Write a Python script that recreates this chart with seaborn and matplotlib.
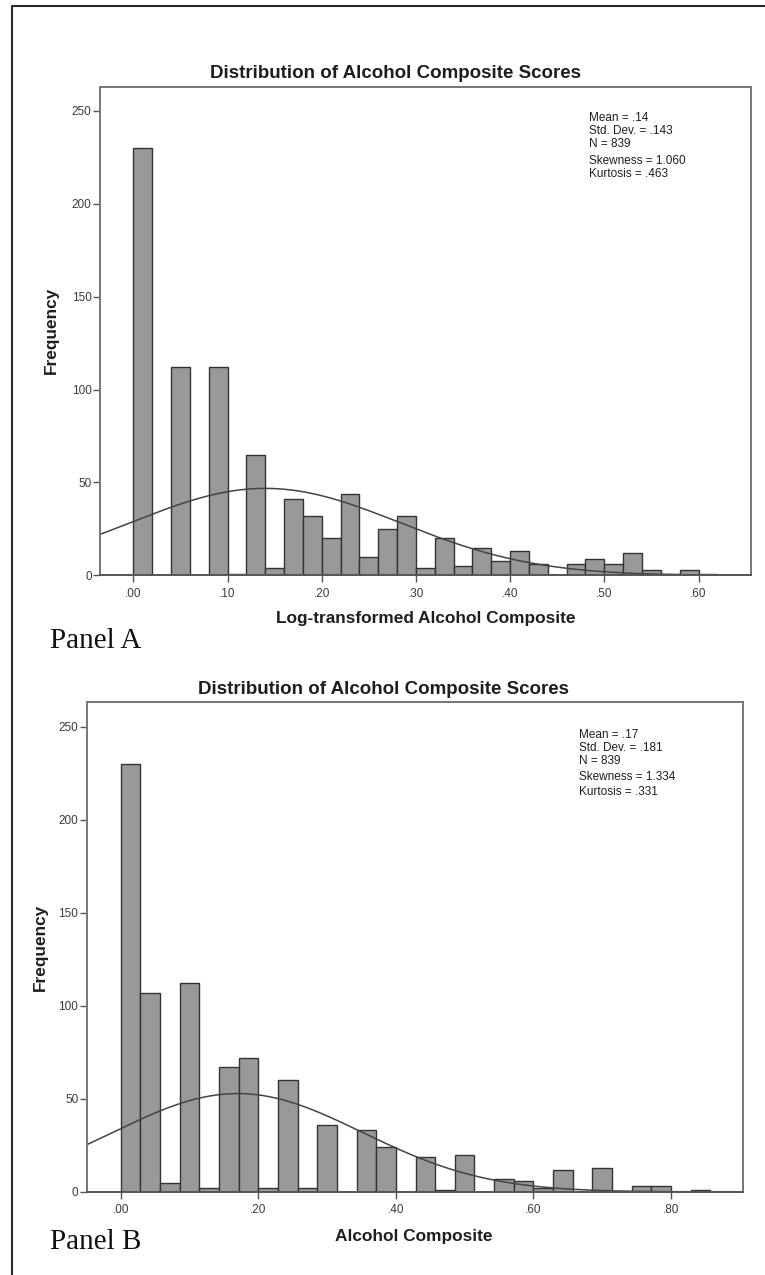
import numpy as np
import pandas as pd
import matplotlib
matplotlib.use("Agg")
import matplotlib.pyplot as plt
from matplotlib.lines import Line2D
import seaborn as sns

# ---------------------------------------------------------------- data
title = "Distribution of Alcohol Composite Scores"

# Panel A: log-transformed composite, bins of width .02 starting at 0
bin_width_a = 0.02
counts_a = [230, 0, 112, 0, 112, 1, 65, 4, 41, 32, 20, 44, 10, 25, 32, 4,
            20, 5, 15, 8, 13, 6, 0, 6, 9, 6, 12, 3, 1, 3, 1]
xticks_a = [0.0, 0.1, 0.2, 0.3, 0.4, 0.5, 0.6]
xticklabels_a = [".00", ".10", ".20", ".30", ".40", ".50", ".60"]
xlabel_a = "Log-transformed Alcohol Composite"
mean_a, sd_a, n_a = 0.14, 0.143, 839
stats_a = ["Mean = .14", "Std. Dev. = .143", "N = 839", "Skewness = 1.060", "Kurtosis = .463"]

# Panel B: raw composite, bins of width .2/7 starting at 0
bin_width_b = 0.2 / 7
counts_b = [230, 107, 5, 112, 2, 67, 72, 2, 60, 2, 36, 0, 33, 24, 0, 19,
            1, 20, 0, 7, 6, 2, 12, 0, 13, 0, 3, 3, 0, 1]
xticks_b = [0.0, 0.2, 0.4, 0.6, 0.8]
xticklabels_b = [".00", ".20", ".40", ".60", ".80"]
xlabel_b = "Alcohol Composite"
mean_b, sd_b, n_b = 0.17, 0.181, 839
stats_b = ["Mean = .17", "Std. Dev. = .181", "N = 839", "Skewness = 1.334", "Kurtosis = .331"]

yticks = [0, 50, 100, 150, 200, 250]
ylabel = "Frequency"

# ---------------------------------------------------------------- style
sns.set_style("white")
plt.rcParams["font.family"] = ["Liberation Sans", "DejaVu Sans"]

W, H = 765, 1275
fig = plt.figure(figsize=(W / 100, H / 100), dpi=100)
fig.patch.set_facecolor("white")


def fx(px):
    return px / W


def fy(py):
    return 1 - py / H


BAR = "#999999"
EDGE = "#333333"
FRAME = "#767676"
CURVE = "#444444"
TXT = "#1e1e1e"


def panel(rect, counts, bw, xlim, xticks, xticklabels, mean, sd, n):
    ax = fig.add_axes(rect)
    nb = len(counts)
    centers = (np.arange(nb) + 0.5) * bw
    df = pd.DataFrame({"value": centers, "count": np.asarray(counts, dtype=float)})
    sns.histplot(data=df, x="value", weights="count", binwidth=bw,
                 binrange=(0, nb * bw), ax=ax,
                 color=BAR, edgecolor=EDGE, linewidth=1.0, alpha=1.0)
    # fitted normal curve scaled to counts per bin
    xs = np.linspace(xlim[0], xlim[1], 400)
    ys = n * bw * np.exp(-0.5 * ((xs - mean) / sd) ** 2) / (sd * np.sqrt(2 * np.pi))
    sns.lineplot(x=xs, y=ys, ax=ax, color=CURVE, linewidth=1.1)
    ax.set_xlim(*xlim)
    ax.set_ylim(0, 263)
    ax.set_xticks(xticks)
    ax.set_xticklabels(xticklabels)
    ax.set_yticks(yticks)
    ax.set_yticklabels([str(v) for v in yticks])
    ax.set_xlabel("")
    ax.set_ylabel("")
    for s in ax.spines.values():
        s.set_visible(True)
        s.set_color(FRAME)
        s.set_linewidth(1.4)
    ax.spines["bottom"].set_color("#555555")
    ax.tick_params(axis="both", which="both", direction="out", length=5,
                   width=1.0, color="#555555", labelsize=8.5, labelcolor="#3a3a3a",
                   left=True, bottom=True, right=False, top=False)
    ax.tick_params(axis="y", pad=1)
    ax.tick_params(axis="x", pad=4)
    ax.grid(False)
    return ax


# Panel A
axA = panel([fx(100), fy(575.4), fx(751) - fx(100), (575.4 - 86.5) / H],
            counts_a, bin_width_a, (-0.0354, 0.6557), xticks_a, xticklabels_a,
            mean_a, sd_a, n_a)
# Panel B
axB = panel([fx(86.7), fy(1191.9), fx(743.3) - fx(86.7), (1191.9 - 702.4) / H],
            counts_b, bin_width_b, (-0.0494, 0.905), xticks_b, xticklabels_b,
            mean_b, sd_b, n_b)

# titles, axis labels
bold = dict(fontweight="bold", color=TXT, ha="center", va="center")
fig.text(fx(395.5), fy(73), title, fontsize=13.5, **bold)
fig.text(fx(384), fy(690), title, fontsize=13.5, **bold)
fig.text(fx(425.6), fy(619), xlabel_a, fontsize=12.4, **bold)
fig.text(fx(414), fy(1236), xlabel_b, fontsize=12.4, **bold)
fig.text(fx(51.5), fy(330), ylabel, fontsize=12.4, rotation=90, **bold)
fig.text(fx(40), fy(947), ylabel, fontsize=12.4, rotation=90, **bold)

# summary statistics
for label, yy in zip(stats_a, [118, 131, 144, 160.5, 174]):
    fig.text(fx(589), fy(yy), label, fontsize=8.5, color=TXT, ha="left", va="center")
for label, yy in zip(stats_b, [735, 748, 761, 777, 792]):
    fig.text(fx(579.3), fy(yy), label, fontsize=8.5, color=TXT, ha="left", va="center")

# panel captions
serif = ["Liberation Serif", "DejaVu Serif"]
fig.text(fx(50.5), fy(641), "Panel A", fontsize=21, family=serif, color="#111111",
         ha="left", va="center")
fig.text(fx(50.5), fy(1242), "Panel B", fontsize=21, family=serif, color="#111111",
         ha="left", va="center")

# outer frame: left and top edges
fig.add_artist(Line2D([fx(11.5), fx(11.5), 1.0], [0.0, fy(6), fy(6)],
                      transform=fig.transFigure, color="#2a2a2a", linewidth=1.5))

fig.savefig("out.png", dpi=100, facecolor="white")
